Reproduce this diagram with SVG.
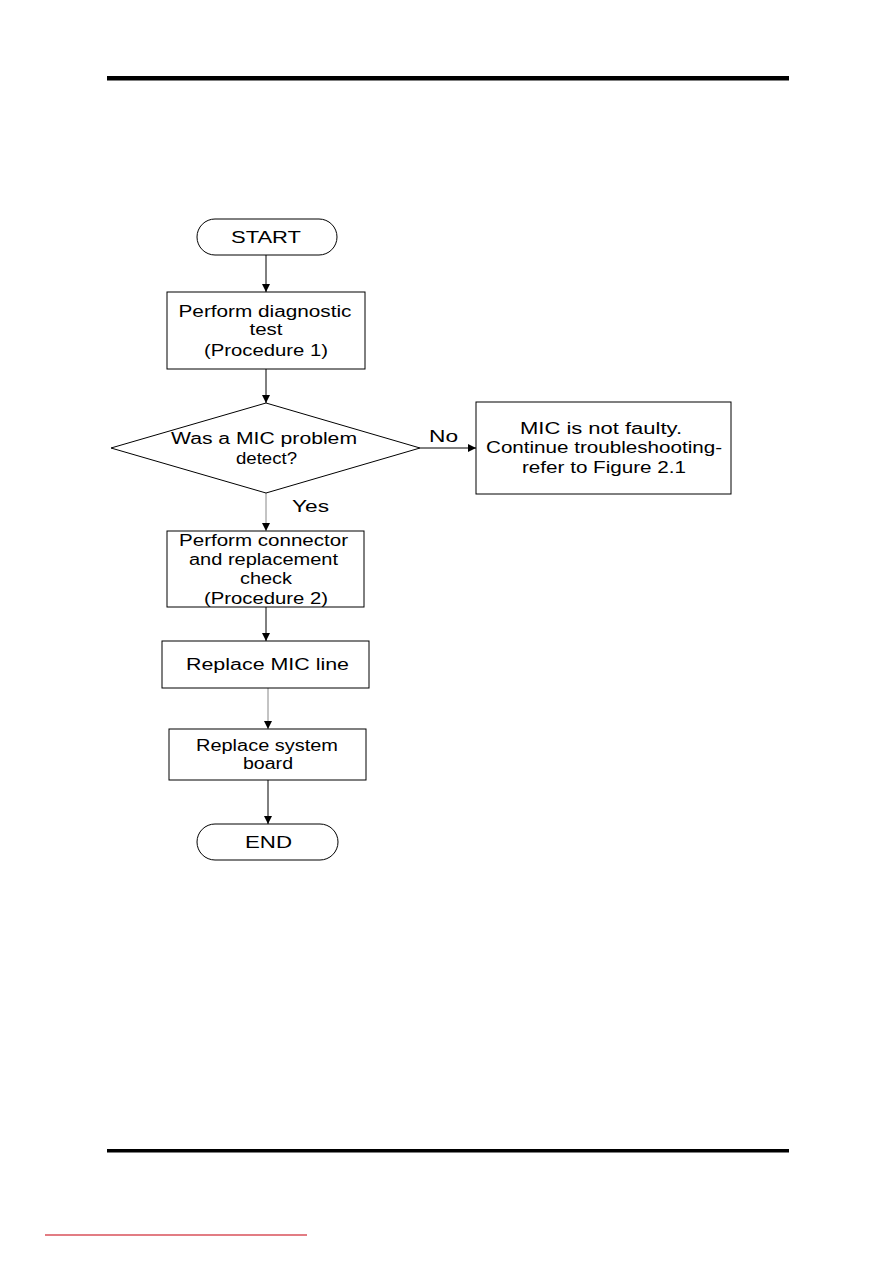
<svg xmlns="http://www.w3.org/2000/svg" width="893" height="1263" viewBox="0 0 893 1263">
<style>
.n{fill:#fff;stroke:#000;stroke-width:1}
.t{font-family:"Liberation Sans",Arial,sans-serif;font-size:16px;fill:#000;text-anchor:middle}
.c{stroke:#000;stroke-width:1;fill:none}
.g{stroke:#888;stroke-width:1;fill:none}
</style>
<defs>
<marker id="ah" markerWidth="10" markerHeight="10" refX="9" refY="5" orient="auto" markerUnits="userSpaceOnUse">
<path d="M1,1 L9,5 L1,9 Z" fill="#000"/>
</marker>
</defs>
<rect x="107" y="76" width="682" height="4.5" fill="#000"/>
<rect x="107" y="1149" width="682" height="3.5" fill="#000"/>
<line x1="45" y1="1235" x2="307" y2="1235" stroke="#d9505a" stroke-width="1.5"/>
<g id="connectors">
<line class="c" x1="266" y1="255" x2="266" y2="292" marker-end="url(#ah)"/>
<line class="c" x1="266" y1="369" x2="266" y2="403" marker-end="url(#ah)"/>
<line class="c" x1="420" y1="448" x2="476" y2="448" marker-end="url(#ah)"/>
<text class="t" x="443.5" y="442" textLength="29" lengthAdjust="spacingAndGlyphs">No</text>
<line class="g" x1="266" y1="493" x2="266" y2="531" marker-end="url(#ah)"/>
<text class="t" x="310.5" y="512" textLength="37" lengthAdjust="spacingAndGlyphs">Yes</text>
<line class="c" x1="266" y1="607" x2="266" y2="641" marker-end="url(#ah)"/>
<line class="g" x1="268" y1="688" x2="268" y2="729" marker-end="url(#ah)"/>
<line class="c" x1="268" y1="780" x2="268" y2="824" marker-end="url(#ah)"/>
</g>
<g id="start">
<rect class="n" x="197" y="219" width="140" height="36" rx="18" ry="18"/>
<text class="t" x="266" y="243" textLength="70" lengthAdjust="spacingAndGlyphs">START</text>
</g>
<g id="diag">
<rect class="n" x="167" y="292" width="198" height="77"/>
<text class="t" x="265" y="317" textLength="173" lengthAdjust="spacingAndGlyphs">Perform diagnostic</text>
<text class="t" x="266" y="335" textLength="33" lengthAdjust="spacingAndGlyphs">test</text>
<text class="t" x="266" y="356" textLength="124" lengthAdjust="spacingAndGlyphs">(Procedure 1)</text>
</g>
<g id="decision">
<polygon class="n" points="266,403 420,448 266,493 111,448"/>
<text class="t" x="264" y="444" textLength="186" lengthAdjust="spacingAndGlyphs">Was a MIC problem</text>
<text class="t" x="266.5" y="464" textLength="61" lengthAdjust="spacingAndGlyphs">detect?</text>
</g>
<g id="notfaulty">
<rect class="n" x="476" y="402" width="255" height="92"/>
<text class="t" x="601" y="434" textLength="162" lengthAdjust="spacingAndGlyphs">MIC is not faulty.</text>
<text class="t" x="604" y="453" textLength="236" lengthAdjust="spacingAndGlyphs">Continue troubleshooting-</text>
<text class="t" x="604" y="473" textLength="164" lengthAdjust="spacingAndGlyphs">refer to Figure 2.1</text>
</g>
<g id="connector">
<rect class="n" x="167" y="531" width="197" height="76"/>
<text class="t" x="263.5" y="546" textLength="169" lengthAdjust="spacingAndGlyphs">Perform connector</text>
<text class="t" x="263.5" y="565" textLength="149" lengthAdjust="spacingAndGlyphs">and replacement</text>
<text class="t" x="266" y="584" textLength="52" lengthAdjust="spacingAndGlyphs">check</text>
<text class="t" x="266" y="604" textLength="124" lengthAdjust="spacingAndGlyphs">(Procedure 2)</text>
</g>
<g id="micline">
<rect class="n" x="162" y="641" width="207" height="47"/>
<text class="t" x="267.5" y="670" textLength="163" lengthAdjust="spacingAndGlyphs">Replace MIC line</text>
</g>
<g id="board">
<rect class="n" x="169" y="729" width="197" height="51"/>
<text class="t" x="267" y="751" textLength="142" lengthAdjust="spacingAndGlyphs">Replace system</text>
<text class="t" x="268" y="769" textLength="50" lengthAdjust="spacingAndGlyphs">board</text>
</g>
<g id="end">
<rect class="n" x="197" y="824" width="141" height="36" rx="18" ry="18"/>
<text class="t" x="268.5" y="848" textLength="47" lengthAdjust="spacingAndGlyphs">END</text>
</g>
</svg>
